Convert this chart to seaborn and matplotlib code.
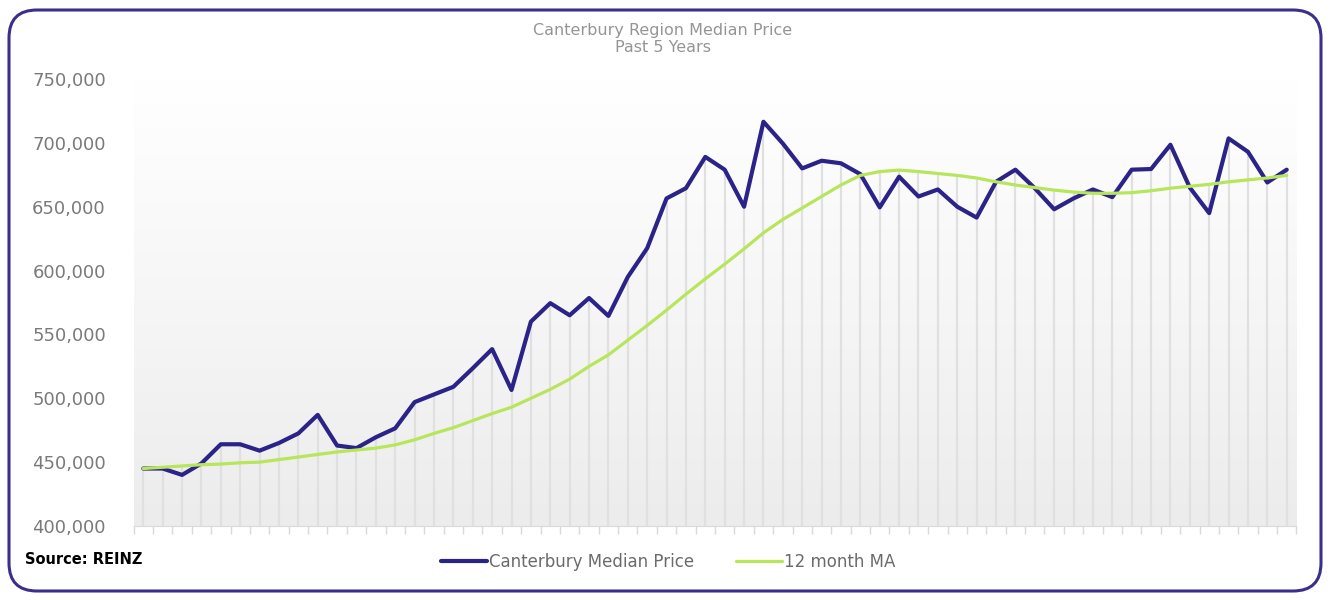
import matplotlib
matplotlib.use("Agg")
import matplotlib.pyplot as plt
import numpy as np
import pandas as pd
import seaborn as sns
from matplotlib.colors import LinearSegmentedColormap
from matplotlib.patches import FancyBboxPatch
from matplotlib.ticker import FuncFormatter

median_price = [
    445000, 445000, 440000, 449000, 464000, 464000, 459000, 465000, 472500, 487000,
    463000, 461000, 469500, 476500, 497000, 503000, 509000, 523500, 538500, 506500,
    560000, 574500, 565000, 578500, 564500, 595000, 617500, 656500, 664500, 689000,
    679000, 650000, 716500, 699500, 680000, 686000, 684000, 675500, 649500, 673500,
    658000, 663500, 650000, 641500, 669500, 679000, 664500, 648000, 656500, 663500,
    657500, 679000, 679500, 698500, 665000, 645000, 703500, 693000, 669000, 679000,
]
moving_avg = [
    445000, 446000, 447000, 448000, 448500, 449500, 450000, 452000, 454000, 456000,
    458000, 459500, 461000, 463500, 467500, 472500, 477000, 482500, 488000, 493000,
    500000, 507000, 515000, 525000, 534000, 545500, 557000, 569000, 581500, 593500,
    605000, 617000, 629500, 640000, 649000, 658000, 667000, 674500, 677500, 678700,
    677500, 676000, 674500, 672500, 669500, 667000, 665000, 663000, 661500, 660500,
    660500, 661000, 662500, 664500, 666000, 667500, 669500, 671000, 672500, 674500,
]
y_ticks = [400000, 450000, 500000, 550000, 600000, 650000, 700000, 750000]

BLUE = "#2b2388"
GREEN = "#b8e65a"
GREY_TXT = "#7a7a7a"

months = np.arange(len(median_price))
df = pd.DataFrame({"month": months, "median": median_price, "ma": moving_avg})

sns.set_style("white")
plt.rcParams["font.family"] = ["DejaVu Sans"]

fig = plt.figure(figsize=(13.3, 6), dpi=100)
ax = fig.add_axes([133.6 / 1330, 1 - 526 / 600, (1296.4 - 133.6) / 1330, (526 - 79) / 600])

# plot area background: light grey at the bottom fading to white near the top
grad = LinearSegmentedColormap.from_list("bg", ["#ececec", "#f6f6f6", "#ffffff"])
ax.imshow(np.linspace(0, 1, 256).reshape(-1, 1), cmap=grad, aspect="auto",
          extent=(-0.5, len(months) - 0.5, y_ticks[0], y_ticks[-1]),
          origin="lower", zorder=0)

# drop lines from the higher series down to the axis
tops = np.maximum(df["median"], df["ma"])
ax.vlines(df["month"], y_ticks[0], tops, color="#e0e0e0", lw=1.6, zorder=1)

sns.lineplot(data=df, x="month", y="median", ax=ax, color=BLUE, lw=3.0,
             label="Canterbury Median Price", zorder=3, legend=False)
sns.lineplot(data=df, x="month", y="ma", ax=ax, color=GREEN, lw=2.3,
             label="12 month MA", zorder=4, legend=False)

ax.set_xlim(-0.5, len(months) - 0.5)
ax.set_ylim(y_ticks[0], y_ticks[-1])
ax.set_yticks(y_ticks)
ax.yaxis.set_major_formatter(FuncFormatter(lambda v, p: f"{int(v):,}"))
ax.set_xticks(np.arange(-0.5, len(months), 1))
ax.set_xticklabels([])
ax.set_xlabel("")
ax.set_ylabel("")
for side in ["top", "right", "left"]:
    ax.spines[side].set_visible(False)
ax.spines["bottom"].set_color("#d9d9d9")
ax.tick_params(axis="x", bottom=True, length=6, color="#d9d9d9", width=1, direction="out")
ax.tick_params(axis="y", left=False, length=0, pad=20, labelsize=13, labelcolor=GREY_TXT)
ax.grid(False)

fig.text(663 / 1330, 1 - 30 / 600, "Canterbury Region Median Price",
         ha="center", va="center", fontsize=11.5, color="#959595")
fig.text(663 / 1330, 1 - 48 / 600, "Past 5 Years",
         ha="center", va="center", fontsize=11.5, color="#959595")

fig.text(25 / 1330, 1 - 560 / 600, "Source: REINZ", ha="left", va="center",
         fontsize=10.5, fontweight="bold", color="black")

handles, labels = ax.get_legend_handles_labels()
leg = fig.legend(handles, labels, loc="center", bbox_to_anchor=(668 / 1330, 1 - 562 / 600),
                 ncol=2, frameon=False, fontsize=12, handlelength=2.8,
                 handletextpad=0.1, columnspacing=2.5)
for t in leg.get_texts():
    t.set_color("#6b6b6b")

frame = FancyBboxPatch((9 / 1330, 9 / 600), 1312 / 1330, 581 / 600,
                       boxstyle="round,pad=0,rounding_size=0.021",
                       transform=fig.transFigure, fill=False,
                       edgecolor="#3a2f8c", lw=2.2, mutation_aspect=1330 / 600)
fig.patches.append(frame)

fig.savefig("out.png", dpi=100)
